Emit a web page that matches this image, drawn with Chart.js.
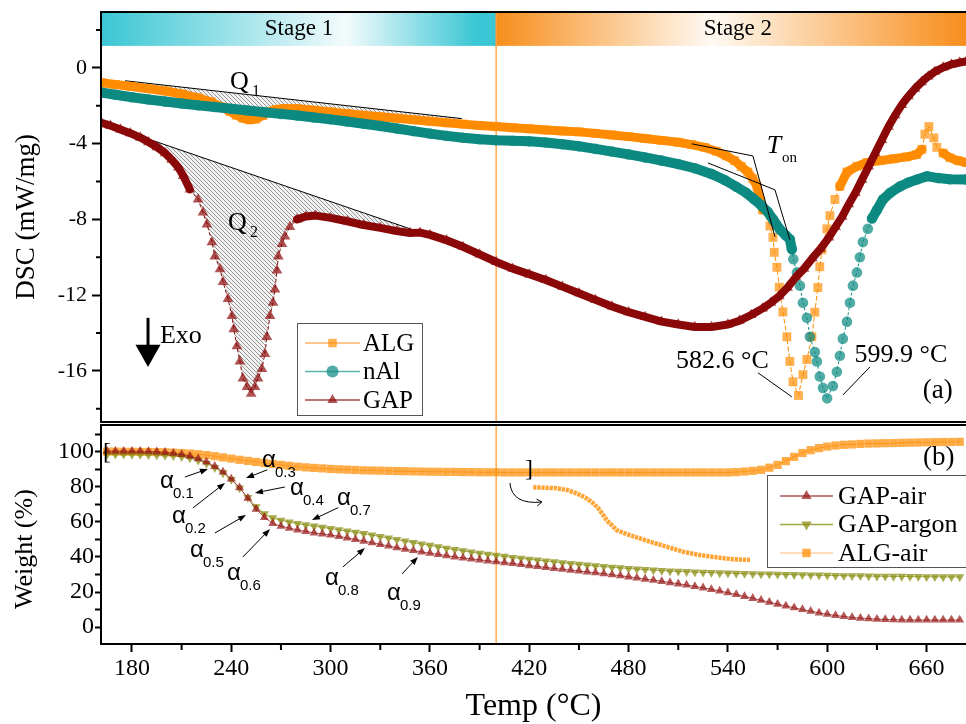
<!DOCTYPE html>
<html>
<head>
<meta charset="utf-8">
<title>DSC / TG of GAP, nAl and ALG</title>
<script src="https://cdn.jsdelivr.net/npm/chart.js@4.4.1/dist/chart.umd.min.js"></script>
<style>
  html, body { margin: 0; padding: 0; background: #fff; }
  #wrap { position: relative; width: 966px; height: 724px; overflow: hidden; }
  #dsc { position: absolute; left: 0; top: 0; }
  #tg { position: absolute; left: 0; top: 424px; }
</style>
</head>
<body>
<div id="wrap">
  <canvas id="dsc" width="966" height="424"></canvas>
  <canvas id="tg" width="966" height="300"></canvas>
</div>
<script>
// ---- axes ----
const tempRange = [161.3, 683.8];
const tempTicks = [180, 240, 300, 360, 420, 480, 540, 600, 660];
const tempMinor = [210, 270, 330, 390, 450, 510, 570, 630];
const stageSplit = 400;

const dscRange = [-18.7, 2.95];
const dscTicks = [-16, -12, -8, -4, 0];
const dscMinor = [-18, -14, -10, -6, -2, 2];

const weightRange = [-9.7, 115.4];
const weightTicks = [0, 20, 40, 60, 80, 100];
const weightMinor = [10, 30, 50, 70, 90, 110];

// ---- DSC curves: [temperature °C, mW/mg] ----
const dscALG = [
  [161.5, -0.78], [170, -0.88], [180, -0.98], [190, -1.1], [200, -1.22], [210, -1.38], [220, -1.58], [228, -1.8],
  [234, -2.05], [239, -2.3], [243, -2.5], [247, -2.66], [251, -2.74], [255, -2.7], [259, -2.52], [263, -2.32],
  [267, -2.2], [272, -2.14], [280, -2.16], [290, -2.24], [300, -2.33], [310, -2.42], [320, -2.5], [330, -2.58],
  [340, -2.66], [350, -2.74], [360, -2.82], [370, -2.9], [380, -2.97], [390, -3.04], [400, -3.1], [410, -3.16],
  [420, -3.22], [430, -3.28], [440, -3.33], [450, -3.38], [460, -3.46], [470, -3.54], [480, -3.63], [490, -3.73],
  [500, -3.83], [510, -3.93], [518, -4.05], [526, -4.2], [533, -4.4], [539, -4.65], [544, -4.9], [548, -5.2],
  [552, -5.5], [555, -5.85], [557.5, -6.25], [561, -7.5], [565.4, -8.35], [567.2, -8.95], [568, -9.74],
  [569.6, -10.53], [571, -11.58], [573.2, -12.89], [575.6, -14.2], [577.4, -15.5], [579.3, -16.58], [582.6, -17.3],
  [585.3, -16.2], [587.7, -15.4], [590.7, -14.2], [592.5, -12.9], [594.3, -11.6], [595.5, -10.5], [596.8, -9.6],
  [599.8, -8.5], [601.6, -7.8], [604.6, -6.95], [607.6, -6.26], [611.9, -5.5], [617.9, -5.2], [624, -5.0],
  [632, -4.9], [640, -4.8], [648, -4.7], [654, -4.58], [657.2, -4.3], [659, -3.5], [661.4, -3.1], [664.4, -3.7],
  [666.2, -4.2], [670, -4.5], [674, -4.74], [679, -4.9], [684, -5.0]
];
const dscNAl = [
  [161.5, -1.3], [170, -1.42], [180, -1.55], [190, -1.67], [200, -1.78], [210, -1.88], [220, -1.98], [230, -2.07],
  [240, -2.16], [250, -2.25], [260, -2.34], [270, -2.43], [280, -2.52], [290, -2.62], [300, -2.72], [310, -2.83],
  [320, -2.95], [330, -3.07], [340, -3.2], [350, -3.34], [360, -3.47], [370, -3.59], [380, -3.69], [390, -3.77],
  [400, -3.82], [410, -3.85], [420, -3.88], [430, -3.94], [440, -4.03], [450, -4.14], [460, -4.28], [470, -4.42],
  [480, -4.57], [490, -4.73], [500, -4.9], [510, -5.08], [520, -5.3], [530, -5.6], [538, -5.92], [545, -6.28],
  [551, -6.6], [556, -6.95], [560, -7.25], [564, -7.6], [567.2, -8.0], [571.4, -8.53], [575, -8.85], [577.4, -9.05],
  [578.6, -9.58], [579.5, -10.1], [581.7, -10.8], [583.5, -11.5], [585.3, -12.4], [587.7, -13.2], [589.5, -14.2],
  [592.5, -15.0], [593.7, -15.5], [595.5, -16.3], [597.4, -16.9], [599.9, -17.45], [603.4, -16.8], [605.8, -16.05],
  [607.6, -15.2], [609.4, -14.3], [611.9, -13.4], [613.7, -12.4], [615.5, -11.5], [617.9, -10.8], [619.7, -10.0],
  [621.5, -9.2], [624.5, -8.5], [627, -7.95], [630, -7.5], [633.6, -6.95], [638, -6.6], [643.9, -6.26], [649, -6.05],
  [654.2, -5.9], [660.2, -5.72], [667, -5.82], [674, -5.88], [684, -5.9]
];
const dscGAP = [
  [161.5, -2.9], [167, -3.05], [173, -3.25], [179, -3.45], [185, -3.68], [190, -3.92], [195, -4.18], [200, -4.5],
  [204, -4.85], [208, -5.25], [211, -5.7], [215, -6.42], [219.9, -6.95], [222.9, -7.63], [225.3, -8.26],
  [228.3, -9.2], [230.1, -9.95], [233.2, -10.63], [235, -11.3], [238, -12.2], [240.4, -13.1], [241.5, -13.8],
  [243.4, -14.7], [245.2, -15.5], [247, -16.4], [249.5, -16.85], [252, -17.2], [254.3, -16.85], [256.1, -16.4],
  [258.5, -15.9], [260.3, -15.1], [261.5, -14.2], [263.4, -13.1], [265.2, -12.4], [266.4, -11.7], [267.6, -10.7],
  [268.4, -9.95], [270.6, -9.3], [272.4, -8.9], [275.4, -8.4], [279.7, -8.0], [285, -7.85], [291, -7.8],
  [300, -7.92], [310, -8.1], [320, -8.3], [330, -8.45], [340, -8.62], [348, -8.72], [354, -8.7], [360, -8.82],
  [370, -9.1], [380, -9.45], [390, -9.85], [400, -10.25], [410, -10.6], [420, -10.9], [430, -11.2], [440, -11.55],
  [450, -11.9], [460, -12.25], [470, -12.6], [480, -12.9], [490, -13.15], [500, -13.4], [510, -13.55], [520, -13.68],
  [530, -13.68], [540, -13.55], [547, -13.35], [554, -13.05], [561, -12.7], [566, -12.4], [571, -12.05],
  [576, -11.6], [581, -11.05], [586, -10.6], [591, -10.05], [596, -9.55], [601, -8.95], [605, -8.4], [609, -7.85],
  [613, -7.2], [617, -6.6], [621, -5.9], [625, -5.2], [629, -4.5], [633, -3.8], [637, -3.1], [641, -2.5],
  [645, -1.95], [649, -1.5], [653, -1.1], [657, -0.75], [661, -0.45], [665, -0.2], [670, 0.02], [675, 0.18],
  [680, 0.28], [684, 0.34]
];
// integration baselines for Q1 and Q2
const q1Base = [[175.8, -0.68], [379.3, -2.68]];
const q2Base = [[177, -3.37], [354, -8.68]];
// onset tangents
const tonLine1 = [[518.2, -4.01], [555.1, -4.65], [568.4, -8.92]];
const tonLine2 = [[527.9, -5.02], [568.4, -6.44], [577.4, -9.08]];

// ---- TG curves on a 5 °C grid (weight %) ----
const tgTemp = [
  165, 170, 175, 180, 185, 190, 195, 200, 205, 210,
  215, 220, 225, 230, 235, 240, 245, 250, 255, 260,
  265, 270, 275, 280, 285, 290, 295, 300, 305, 310,
  315, 320, 325, 330, 335, 340, 345, 350, 355, 360,
  365, 370, 375, 380, 385, 390, 395, 400, 405, 410,
  415, 420, 425, 430, 435, 440, 445, 450, 455, 460,
  465, 470, 475, 480, 485, 490, 495, 500, 505, 510,
  515, 520, 525, 530, 535, 540, 545, 550, 555, 560,
  565, 570, 575, 580, 585, 590, 595, 600, 605, 610,
  615, 620, 625, 630, 635, 640, 645, 650, 655, 660,
  665, 670, 675, 680
];
const tgGAPair = [
  100.5, 100.5, 100.5, 100.5, 100.4, 100.3, 100.1, 99.8, 99.3, 98.6,
  97.6, 96.2, 94.3, 91.8, 88.6, 84.6, 79.6, 73.6, 67.4, 62.6,
  59.2, 57.6, 56.5, 55.5, 54.6, 53.8, 53.2, 52.6, 51.8, 50.9,
  50.0, 49.1, 48.2, 47.2, 46.3, 45.3, 44.5, 43.7, 42.9, 42.2,
  41.5, 40.8, 40.1, 39.5, 38.9, 38.4, 37.8, 37.3, 36.8, 36.3,
  35.7, 35.1, 34.6, 34.0, 33.5, 33.0, 32.5, 32.0, 31.5, 31.0,
  30.5, 29.9, 29.3, 28.7, 28.1, 27.4, 26.8, 26.1, 25.4, 24.7,
  24.0, 23.2, 22.4, 21.5, 20.6, 19.6, 18.6, 17.5, 16.4, 15.3,
  14.2, 13.1, 12.0, 11.0, 10.0, 9.0, 8.1, 7.3, 6.6, 6.0,
  5.5, 5.1, 4.8, 4.5, 4.3, 4.2, 4.1, 4.0, 4.0, 4.0,
  4.0, 4.0, 4.0, 4.0
];
const tgGAPargon = [
  98.6, 98.6, 98.6, 98.5, 98.5, 98.4, 98.3, 98.1, 97.8, 97.3,
  96.5, 95.2, 93.4, 91.0, 88.0, 84.2, 79.4, 73.9, 68.6, 64.6,
  62.3, 61.0, 60.0, 59.1, 58.3, 57.6, 56.9, 56.2, 55.5, 54.8,
  54.1, 53.3, 52.5, 51.7, 50.8, 49.9, 49.1, 48.2, 47.4, 46.6,
  45.8, 45.0, 44.2, 43.5, 42.8, 42.1, 41.5, 40.9, 40.3, 39.7,
  39.2, 38.7, 38.2, 37.7, 37.2, 36.7, 36.2, 35.8, 35.3, 34.9,
  34.5, 34.1, 33.8, 33.4, 33.1, 32.8, 32.5, 32.2, 32.0, 31.8,
  31.6, 31.4, 31.2, 31.1, 30.9, 30.8, 30.6, 30.5, 30.4, 30.3,
  30.2, 30.1, 30.0, 29.9, 29.8, 29.7, 29.6, 29.5, 29.4, 29.3,
  29.2, 29.2, 29.1, 29.0, 29.0, 28.9, 28.9, 28.8, 28.8, 28.7,
  28.7, 28.6, 28.6, 28.6
];
const tgALGair = [
  100.2, 100.2, 100.1, 100.1, 100.0, 100.0, 99.9, 99.8, 99.6, 99.4,
  99.1, 98.7, 98.2, 97.6, 96.9, 96.2, 95.5, 94.9, 94.3, 93.7,
  93.1, 92.6, 92.1, 91.6, 91.2, 90.9, 90.6, 90.3, 90.1, 89.9,
  89.7, 89.5, 89.4, 89.3, 89.2, 89.1, 89.0, 88.9, 88.8, 88.7,
  88.7, 88.6, 88.6, 88.5, 88.5, 88.4, 88.4, 88.4, 88.3, 88.3,
  88.3, 88.3, 88.3, 88.3, 88.3, 88.3, 88.3, 88.3, 88.3, 88.3,
  88.3, 88.3, 88.3, 88.3, 88.3, 88.3, 88.3, 88.3, 88.3, 88.3,
  88.3, 88.3, 88.3, 88.3, 88.3, 88.3, 88.5, 88.8, 89.2, 89.8,
  91.0, 92.6, 94.8, 97.2, 99.4, 101.0, 102.2, 103.1, 103.7, 104.1,
  104.3, 104.6, 104.8, 104.9, 105.0, 105.1, 105.2, 105.3, 105.4, 105.5,
  105.6, 105.7, 105.7, 105.8
];
// enlarged ALG-air step (the bracketed 162-402 °C part), plotted as an inset
const tgALGzoom = [
  [422.4, 79.8], [436.5, 79.3], [442.6, 78.3], [448.6, 76.4], [454.6, 73.5], [458.6, 70.7], [461.7, 67.8],
  [464.7, 64], [466.7, 61.1], [469.7, 58.3], [472.7, 55.4], [478.8, 53.1], [492.8, 48.8], [502.9, 45.9],
  [513, 43], [523, 41.1], [533.1, 39.8], [543.2, 38.7], [553.3, 38.3]
];
// conversion-degree markers: [subscript, label T, label W, arrow from T, W, arrow to T, W]
const alphaMarks = [
  ['0.1', 196.9, 79.4, 212, 85.7, 225.9, 90.3],
  ['0.2', 204.2, 59.4, 216.8, 68, 236.2, 82.3],
  ['0.3', 258.5, 91.4, 261.8, 89.8, 248.9, 85.1],
  ['0.4', 275.4, 75.4, 272.4, 80, 254.3, 76.6],
  ['0.5', 215, 40, 230.1, 53.7, 248.9, 64],
  ['0.6', 237.4, 26.9, 247, 40, 263.4, 56],
  ['0.7', 303.8, 69.7, 304.6, 68.2, 288.7, 61.1],
  ['0.8', 296.6, 24, 307.4, 34.3, 320.7, 45.1],
  ['0.9', 334, 15.4, 343.1, 30.3, 352.7, 40]
];

// ---- style ----
const serif = "'Liberation Serif', 'Times New Roman', serif";
const sans = "'Liberation Sans', Arial, sans-serif";
Chart.defaults.font.family = serif;
Chart.defaults.color = '#000';
const stageBandLow = 1.16;
const cyan = 'rgb(58,198,212)';
const amber = 'rgb(247,142,28)';

const hatch = (() => {
  const c = document.createElement('canvas');
  c.width = 4; c.height = 4;
  const g = c.getContext('2d');
  g.fillStyle = '#f2f2f2'; g.fillRect(0, 0, 4, 4);
  g.strokeStyle = '#8c8c8c'; g.lineWidth = 0.9;
  g.beginPath();
  g.moveTo(0, 0); g.lineTo(4, 4);
  g.moveTo(-2, 2); g.lineTo(2, 6);
  g.moveTo(2, -2); g.lineTo(6, 2);
  g.stroke();
  return g.createPattern(c, 'repeat');
})();

function inRanges(pts, ranges, c) {
  const t = pts[c.p0DataIndex][0];
  return ranges.some(r => t >= r[0] && t < r[1]);
}

function dscCurve(label, pts, line, fill, legendLine, style, radius, band, thin, dash) {
  return {
    label,
    data: pts.map(p => ({ x: p[0], y: p[1] })),
    borderColor: line,
    borderWidth: band,
    borderCapStyle: 'round',
    borderJoinStyle: 'round',
    pointStyle: style,
    pointRadius: radius,
    pointBackgroundColor: fill,
    pointBorderWidth: 0,
    tension: 0,
    fill: false,
    legendLine,
    segment: {
      borderWidth: c => inRanges(pts, thin, c) ? 1 : band,
      borderDash: c => inRanges(pts, thin, c) ? dash : []
    }
  };
}

function baseLine(pts, target) {
  return {
    data: pts.map(p => ({ x: p[0], y: p[1] })),
    borderColor: '#000',
    borderWidth: 1,
    pointRadius: 0,
    fill: target,
    backgroundColor: hatch
  };
}

function tgCurve(label, values, fill, legendLine, style, radius, rotation) {
  return {
    label,
    data: tgTemp.map((t, i) => ({ x: t, y: values[i] })),
    borderColor: fill,
    borderWidth: 1,
    pointStyle: style,
    pointRadius: radius,
    pointRotation: rotation || 0,
    pointBackgroundColor: fill,
    pointBorderWidth: 0,
    tension: 0,
    fill: false,
    legendLine
  };
}

// ---- drawing helpers ----
function toPx(chart, t, v) {
  return [chart.scales.x.getPixelForValue(t), chart.scales.y.getPixelForValue(v)];
}
function polyline(ctx, chart, pts) {
  ctx.beginPath();
  pts.forEach((p, i) => {
    const q = toPx(chart, p[0], p[1]);
    if (i) ctx.lineTo(q[0], q[1]); else ctx.moveTo(q[0], q[1]);
  });
  ctx.stroke();
}
function note(ctx, chart, str, t, v, font, align, base) {
  const q = toPx(chart, t, v);
  ctx.font = font;
  ctx.textAlign = align || 'left';
  ctx.textBaseline = base || 'alphabetic';
  ctx.fillText(str, q[0], q[1]);
}
function arrowTo(ctx, x1, y1, x2, y2, len, half) {
  const a = Math.atan2(y2 - y1, x2 - x1), c = Math.cos(a), s = Math.sin(a);
  ctx.beginPath();
  ctx.moveTo(x1, y1);
  ctx.lineTo(x2 - c * len * 0.7, y2 - s * len * 0.7);
  ctx.stroke();
  ctx.beginPath();
  ctx.moveTo(x2, y2);
  ctx.lineTo(x2 - c * len - s * half, y2 - s * len + c * half);
  ctx.lineTo(x2 - c * len + s * half, y2 - s * len - c * half);
  ctx.closePath();
  ctx.fill();
}
function frame(chart) {
  const { ctx, chartArea: a } = chart;
  ctx.save();
  ctx.strokeStyle = '#000';
  ctx.lineWidth = 2;
  ctx.beginPath();
  ctx.moveTo(a.right + 2, a.top);
  ctx.lineTo(a.left, a.top);
  ctx.lineTo(a.left, a.bottom);
  ctx.lineTo(a.right + 2, a.bottom);
  ctx.stroke();
  ctx.restore();
}
function minorTicks(chart, axis, values, len) {
  const { ctx, chartArea: a } = chart;
  const s = chart.scales[axis];
  ctx.save();
  ctx.strokeStyle = '#000';
  ctx.lineWidth = 2;
  ctx.beginPath();
  values.forEach(v => {
    const p = s.getPixelForValue(v);
    if (axis === 'x') { ctx.moveTo(p, a.bottom); ctx.lineTo(p, a.bottom + len); }
    else { ctx.moveTo(a.left, p); ctx.lineTo(a.left - len, p); }
  });
  ctx.stroke();
  ctx.restore();
}
function separator(chart) {
  const { ctx, chartArea: a } = chart;
  const x = chart.scales.x.getPixelForValue(stageSplit);
  ctx.save();
  ctx.strokeStyle = 'rgba(255,160,60,0.9)';
  ctx.lineWidth = 1.5;
  ctx.beginPath();
  ctx.moveTo(x, a.top);
  ctx.lineTo(x, a.bottom);
  ctx.stroke();
  ctx.restore();
}
function legendBox(chart, box, font) {
  const ctx = chart.ctx;
  let items = chart.data.datasets.filter(d => d.legendLine);
  if (box.reverse) items = items.slice().reverse();
  ctx.save();
  ctx.fillStyle = '#fff';
  ctx.fillRect(box.x, box.y, box.w, box.h);
  ctx.strokeStyle = '#555';
  ctx.lineWidth = 1;
  ctx.strokeRect(box.x + 0.5, box.y + 0.5, box.w, box.h);
  items.forEach((d, i) => {
    const y = box.y + box.first + i * box.gap;
    ctx.strokeStyle = d.legendLine;
    ctx.lineWidth = 1.5;
    ctx.beginPath();
    ctx.moveTo(box.x + box.l0, y);
    ctx.lineTo(box.x + box.l1, y);
    ctx.stroke();
    ctx.fillStyle = d.pointBackgroundColor;
    Chart.helpers.drawPoint(ctx, {
      pointStyle: d.pointStyle, radius: box.r, rotation: d.pointRotation || 0, borderWidth: 0
    }, box.x + (box.l0 + box.l1) / 2, y);
    ctx.fillStyle = '#000';
    ctx.font = font;
    ctx.textAlign = 'left';
    ctx.textBaseline = 'middle';
    ctx.fillText(d.label, box.x + box.tx, y + 1);
  });
  ctx.restore();
}

// ---- panel (a): DSC ----
const dscNotes = {
  id: 'dscNotes',
  beforeDatasetsDraw(chart) {
    const { ctx, chartArea: a } = chart;
    const split = chart.scales.x.getPixelForValue(stageSplit);
    const yb = chart.scales.y.getPixelForValue(stageBandLow);
    ctx.save();
    let g = ctx.createLinearGradient(a.left, 0, split, 0);
    g.addColorStop(0, cyan);
    g.addColorStop(0.62, '#f3fbfc');
    g.addColorStop(0.95, cyan);
    g.addColorStop(1, cyan);
    ctx.fillStyle = g;
    ctx.fillRect(a.left, a.top, split - a.left, yb - a.top);
    g = ctx.createLinearGradient(split, 0, a.right, 0);
    g.addColorStop(0, amber);
    g.addColorStop(0.46, '#fffaf3');
    g.addColorStop(1, amber);
    ctx.fillStyle = g;
    ctx.fillRect(split, a.top, a.right - split, yb - a.top);
    ctx.restore();
    separator(chart);
  },
  afterDatasetsDraw(chart) {
    const ctx = chart.ctx;
    ctx.save();
    ctx.fillStyle = '#000';
    note(ctx, chart, 'Stage 1', 280.9, 2.03, '23px ' + serif, 'center', 'middle');
    note(ctx, chart, 'Stage 2', 546.0, 2.03, '23px ' + serif, 'center', 'middle');
    note(ctx, chart, 'Q', 239.2, -1.11, '26px ' + serif);
    note(ctx, chart, '1', 252.5, -1.48, '16px ' + serif);
    note(ctx, chart, 'Q', 238, -8.55, '26px ' + serif);
    note(ctx, chart, '2', 251.3, -8.92, '16px ' + serif);

    ctx.strokeStyle = '#000';
    ctx.lineWidth = 1;
    polyline(ctx, chart, tonLine1);
    polyline(ctx, chart, tonLine2);
    note(ctx, chart, 'T', 563.5, -4.49, 'italic 26px ' + serif);
    note(ctx, chart, 'on', 572.6, -4.96, '15px ' + serif);

    note(ctx, chart, '582.6 °C', 536.7, -15.84, '26px ' + serif, 'center');
    note(ctx, chart, '599.9 °C', 644.5, -15.52, '26px ' + serif, 'center');
    polyline(ctx, chart, [[558.1, -16.1], [578.6, -17.37]]);
    polyline(ctx, chart, [[625.8, -15.79], [609.5, -17.27]]);
    note(ctx, chart, '(a)', 666.8, -17.42, '27px ' + serif, 'center');

    // exothermic direction arrow
    const top = toPx(chart, 189.7, -13.2);
    const headBase = chart.scales.y.getPixelForValue(-14.62);
    const tip = chart.scales.y.getPixelForValue(-15.79);
    ctx.lineWidth = 3;
    ctx.beginPath();
    ctx.moveTo(top[0], top[1]);
    ctx.lineTo(top[0], headBase + 1);
    ctx.stroke();
    ctx.beginPath();
    ctx.moveTo(top[0] - 12.5, headBase);
    ctx.lineTo(top[0] + 12.5, headBase);
    ctx.lineTo(top[0], tip);
    ctx.closePath();
    ctx.fill();
    note(ctx, chart, 'Exo', 196.9, -14.52, '26px ' + serif);
    ctx.restore();

    frame(chart);
    minorTicks(chart, 'y', dscMinor, 5);
    legendBox(chart, { x: 297, y: 323, w: 125, h: 92, first: 20, gap: 28.5, l0: 8, l1: 63, tx: 66, r: 6, reverse: true }, '25px ' + serif);
  }
};

new Chart(document.getElementById('dsc'), {
  type: 'line',
  data: {
    datasets: [
      dscCurve('GAP', dscGAP, 'rgb(139,8,8)', 'rgba(139,8,8,0.7)', 'rgb(170,70,70)', 'triangle', 6.2, 8, [[213, 279]], [3, 3]),
      dscCurve('nAl', dscNAl, 'rgb(12,138,130)', 'rgba(12,138,130,0.72)', 'rgb(90,178,172)', 'circle', 5.3, 10, [[578, 626]], [2, 3]),
      dscCurve('ALG', dscALG, 'rgb(255,140,0)', 'rgba(255,140,0,0.68)', 'rgb(255,180,100)', 'rect', 6.3, 9, [[560, 605], [656, 667]], [4, 3]),
      baseLine(q1Base, 2),
      baseLine(q2Base, 0)
    ]
  },
  options: {
    responsive: false,
    animation: false,
    devicePixelRatio: 1,
    layout: { autoPadding: false, padding: { top: 12, bottom: 2, left: 0, right: 0 } },
    plugins: { legend: { display: false }, tooltip: { enabled: false } },
    scales: {
      x: { type: 'linear', min: tempRange[0], max: tempRange[1], display: false },
      y: {
        type: 'linear',
        min: dscRange[0],
        max: dscRange[1],
        afterBuildTicks: s => { s.ticks = dscTicks.map(v => ({ value: v })); },
        afterFit: s => { s.width = 101; s.paddingTop = 0; s.paddingBottom = 0; },
        ticks: { font: { size: 22 }, padding: 5, color: '#000' },
        grid: { drawOnChartArea: false, tickLength: 9, tickWidth: 2, tickColor: '#000' },
        border: { display: false },
        title: { display: true, text: 'DSC (mW/mg)', font: { size: 27, lineHeight: 1 }, padding: { top: 13, bottom: 0 } }
      }
    }
  },
  plugins: [dscNotes]
});

// ---- panel (b): TG ----
const tgNotes = {
  id: 'tgNotes',
  beforeDatasetsDraw(chart) {
    separator(chart);
  },
  afterDatasetsDraw(chart) {
    const ctx = chart.ctx;
    ctx.save();
    ctx.fillStyle = '#000';
    ctx.strokeStyle = '#000';
    ctx.lineWidth = 1;
    alphaMarks.forEach(m => {
      const p = toPx(chart, m[1], m[2]);
      ctx.font = '24px ' + sans;
      ctx.textAlign = 'left';
      ctx.textBaseline = 'alphabetic';
      ctx.fillText('α', p[0], p[1]);
      ctx.font = '15px ' + sans;
      ctx.fillText(m[0], p[0] + 13, p[1] + 10);
      const f = toPx(chart, m[3], m[4]);
      const t = toPx(chart, m[5], m[6]);
      arrowTo(ctx, f[0], f[1], t[0], t[1], 8, 3);
    });

    note(ctx, chart, '[', 162.5, 99.4, '24px ' + serif, 'left', 'middle');
    note(ctx, chart, ']', 417.4, 89.7, '24px ' + serif, 'left', 'middle');

    // curved arrow pointing at the enlarged step
    const p0 = toPx(chart, 408.3, 82.3);
    const pc = toPx(chart, 409.5, 69.7);
    const p1 = toPx(chart, 427.6, 71.4);
    ctx.beginPath();
    ctx.moveTo(p0[0], p0[1]);
    ctx.quadraticCurveTo(pc[0], pc[1], p1[0], p1[1]);
    ctx.stroke();
    const ang = Math.atan2(p1[1] - pc[1], p1[0] - pc[0]);
    ctx.beginPath();
    ctx.moveTo(p1[0] - 6 * Math.cos(ang - 0.6), p1[1] - 6 * Math.sin(ang - 0.6));
    ctx.lineTo(p1[0], p1[1]);
    ctx.lineTo(p1[0] - 6 * Math.cos(ang + 0.6), p1[1] - 6 * Math.sin(ang + 0.6));
    ctx.stroke();

    note(ctx, chart, '(b)', 667.4, 92.6, '27px ' + serif, 'center');

    // y title, centred a little below the panel middle as in the figure
    ctx.save();
    ctx.translate(25, chart.scales.y.getPixelForValue(44.5));
    ctx.rotate(-Math.PI / 2);
    ctx.font = '26px ' + serif;
    ctx.textAlign = 'center';
    ctx.textBaseline = 'middle';
    ctx.fillText('Weight (%)', 0, 0);
    ctx.restore();
    ctx.restore();

    frame(chart);
    minorTicks(chart, 'y', weightMinor, 6);
    minorTicks(chart, 'x', tempMinor, 6);
    legendBox(chart, { x: 767, y: 51, w: 210, h: 92, first: 21, gap: 28.5, l0: 13, l1: 66, tx: 71, r: 6 }, '26px ' + serif);
  }
};

new Chart(document.getElementById('tg'), {
  type: 'line',
  data: {
    datasets: [
      tgCurve('GAP-air', tgGAPair, 'rgba(150,22,22,0.72)', 'rgb(175,85,85)', 'triangle', 5.2, 0),
      tgCurve('GAP-argon', tgGAPargon, 'rgba(138,142,18,0.75)', 'rgb(160,165,70)', 'triangle', 5.2, 180),
      tgCurve('ALG-air', tgALGair, 'rgba(255,140,0,0.72)', 'rgb(255,208,165)', 'rect', 5.8, 0),
      {
        data: tgALGzoom.map(p => ({ x: p[0], y: p[1] })),
        borderColor: 'rgba(255,140,0,0.8)',
        borderWidth: 4.5,
        borderDash: [3.2, 0.9],
        pointRadius: 0,
        tension: 0,
        fill: false
      }
    ]
  },
  options: {
    responsive: false,
    animation: false,
    devicePixelRatio: 1,
    layout: { autoPadding: false, padding: { top: 1, bottom: 0, left: 0, right: 0 } },
    plugins: { legend: { display: false }, tooltip: { enabled: false } },
    scales: {
      x: {
        type: 'linear',
        min: tempRange[0],
        max: tempRange[1],
        afterBuildTicks: s => { s.ticks = tempTicks.map(v => ({ value: v })); },
        afterFit: s => { s.height = 80; s.paddingLeft = 0; s.paddingRight = 0; },
        ticks: { font: { size: 24 }, padding: 2, autoSkip: false, maxRotation: 0, color: '#000' },
        grid: { drawOnChartArea: false, tickLength: 8, tickWidth: 2, tickColor: '#000' },
        border: { display: false },
        title: { display: true, text: 'Temp (°C)', font: { size: 32, lineHeight: 1 }, padding: { top: 0, bottom: 1 } }
      },
      y: {
        type: 'linear',
        min: weightRange[0],
        max: weightRange[1],
        afterBuildTicks: s => { s.ticks = weightTicks.map(v => ({ value: v })); },
        afterFit: s => { s.width = 101; s.paddingTop = 0; s.paddingBottom = 0; },
        ticks: { font: { size: 24 }, padding: 1, color: '#000' },
        grid: { drawOnChartArea: false, tickLength: 6, tickWidth: 2, tickColor: '#000' },
        border: { display: false },
        title: { display: false }
      }
    }
  },
  plugins: [tgNotes]
});
</script>
</body>
</html>
